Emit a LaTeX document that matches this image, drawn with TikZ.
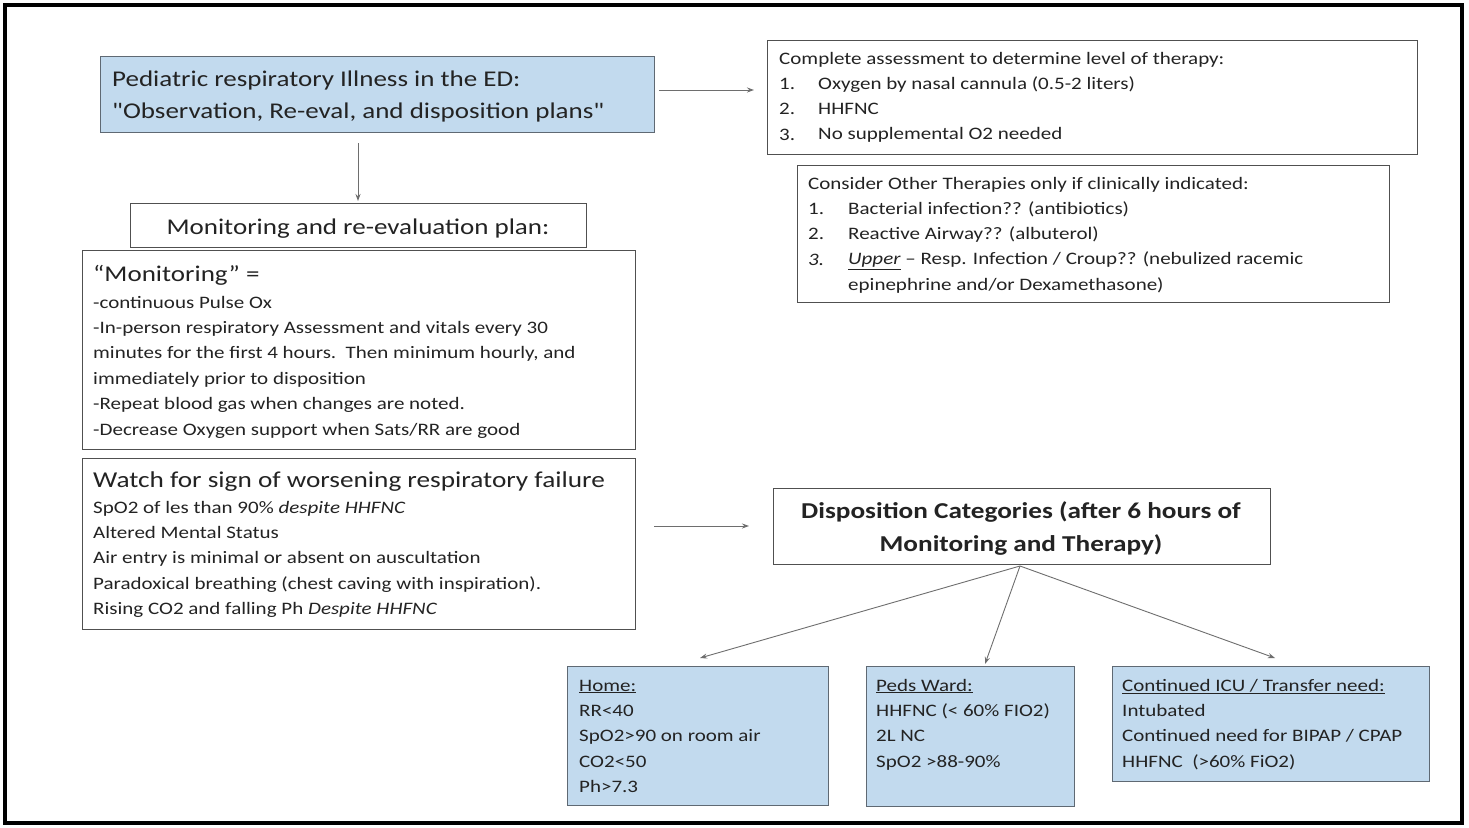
\documentclass[tikz,border=0pt]{standalone}
\usepackage{fontspec}
\setmainfont{Carlito}[FakeStretch=1.2]
\usetikzlibrary{arrows.meta}
\definecolor{boxblue}{RGB}{194,218,238}
\definecolor{bluedge}{RGB}{95,105,115}
\definecolor{edgegray}{RGB}{80,80,80}
\definecolor{arrowgray}{RGB}{110,110,110}
\definecolor{txt}{RGB}{35,35,35}
\newcommand{\tl}[1]{\begin{tabular}[t]{@{}l@{}}#1\end{tabular}}
\newcommand{\tc}[1]{\begin{tabular}[t]{@{}c@{}}#1\end{tabular}}
\newcommand{\sq}{{\addfontfeatures{Ligatures=TeXOff}\symbol{34}}}
\tikzset{
  x=1pt, y=-1pt,
  plainbox/.style={draw=edgegray, line width=1.1pt, fill=white, inner sep=0pt},
  bluebox/.style={draw=bluedge, line width=1.3pt, fill=boxblue, inner sep=0pt},
  body/.style={inner sep=0pt, anchor=base west, text=txt,
    font=\fontsize{17.5}{25.4}\selectfont},
  big/.style={inner sep=0pt, text=txt, font=\fontsize{22.5}{32}\selectfont},
  conn/.style={draw=arrowgray, line width=0.9pt, -{Stealth[length=7pt,width=5pt]}},
}
\newcommand{\boxat}[6]{\node[#1, minimum width={(#4)-(#2)}, minimum height={(#5)-(#3)}, anchor=north west] (#6) at (#2,#3) {};}
\begin{document}
\begin{tikzpicture}
\useasboundingbox (0,0) rectangle (1469,827);
\fill[white] (0,0) rectangle (1469,827);
\draw[line width=4pt] (5,5) rectangle (1462,823);

% boxes
\boxat{bluebox}{100}{56}{654}{132}{title}
\boxat{plainbox}{130}{203}{586}{247}{plan}
\boxat{plainbox}{82}{250}{635}{449}{monit}
\boxat{plainbox}{82}{458}{635}{629}{watch}
\boxat{plainbox}{767}{40}{1417}{154}{assess}
\boxat{plainbox}{797}{165}{1389}{302}{other}
\boxat{plainbox}{773}{488}{1270}{564}{dispo}
\boxat{bluebox}{567}{666}{828}{805}{home}
\boxat{bluebox}{866}{666}{1074}{806}{ward}
\boxat{bluebox}{1112}{666}{1429}{781}{icu}

% texts
\node[big, anchor=base west] (titletxt) at (112,86)
  {\tl{Pediatric respiratory Illness in the ED:\\\sq Observation, Re-eval, and disposition plans\sq}};
\node[big, anchor=base] (plantxt) at (358,234) {Monitoring and re-evaluation plan:};

\node[body] (assesstxt) at (779,64) {\tl{Complete assessment to determine level of therapy:\\1.\\2.\\3.}};
\node[body] (assessitems) at (818,89) {\tl{Oxygen by nasal cannula (0.5-2 liters)\\HHFNC\\No supplemental O2 needed}};

\node[body] (othertxt) at (808,189) {\tl{Consider Other Therapies only if clinically indicated:\\1.\\2.\\\textit{3.}}};
\node[body] (otheritems) at (848,214) {\tl{Bacterial infection?? (antibiotics)\\Reactive Airway?? (albuterol)\\
  \underline{\textit{Upper}} -- Resp. Infection / Croup?? (nebulized racemic\\epinephrine and/or Dexamethasone)}};

\node[big, anchor=base west] (monithead) at (93,281) {``Monitoring'' =};
\node[body] (monittxt) at (93,308) {\tl{-continuous Pulse Ox\\
  -In-person respiratory Assessment and vitals every 30\\
  minutes for the first 4 hours.\ \ Then minimum hourly, and\\
  immediately prior to disposition\\
  -Repeat blood gas when changes are noted.\\
  -Decrease Oxygen support when Sats/RR are good}};

\node[big, anchor=base west, font=\fontsize{22.7}{32}\selectfont] (watchhead) at (93,487) {Watch for sign of worsening respiratory failure};
\node[body] (watchtxt) at (93,513) {\tl{SpO2 of les than 90\% \textit{despite HHFNC}\\
  Altered Mental Status\\
  Air entry is minimal or absent on auscultation\\
  Paradoxical breathing (chest caving with inspiration).\\
  Rising CO2 and falling Ph \textit{Despite HHFNC}}};

\node[big, anchor=base, font=\bfseries\fontsize{22.7}{33}\selectfont] (dispotxt) at (1021,518)
  {\tc{Disposition Categories (after 6 hours of\\Monitoring and Therapy)}};

\node[body] (hometxt) at (579,691) {\tl{\underline{Home:}\\RR<40\\SpO2>90 on room air\\CO2<50\\Ph>7.3}};
\node[body] (wardtxt) at (876,691) {\tl{\underline{Peds Ward:}\\HHFNC (< 60\% FIO2)\\2L NC\\SpO2 >88-90\%}};
\node[body] (icutxt) at (1122,691) {\tl{\underline{Continued ICU / Transfer need:}\\Intubated\\Continued need for BIPAP / CPAP\\HHFNC\ \ (>60\% FiO2)}};

% connectors
\coordinate (a1e) at (754,90);
\draw[conn] (title.east |- a1e) ++(4,0) -- (a1e);
\coordinate (a2s) at (358,143);
\coordinate (a2e) at (358,201);
\draw[conn] (a2s) -- (a2e);
\coordinate (a3s) at (654,526);
\coordinate (a3e) at (749,526);
\draw[conn] (a3s) -- (a3e);
\coordinate (dsrc) at (1020,566);
\draw[conn] (dsrc) -- (700,658);
\draw[conn] (dsrc) -- (985,664);
\draw[conn] (dsrc) -- (1275,658);
\end{tikzpicture}
\end{document}
